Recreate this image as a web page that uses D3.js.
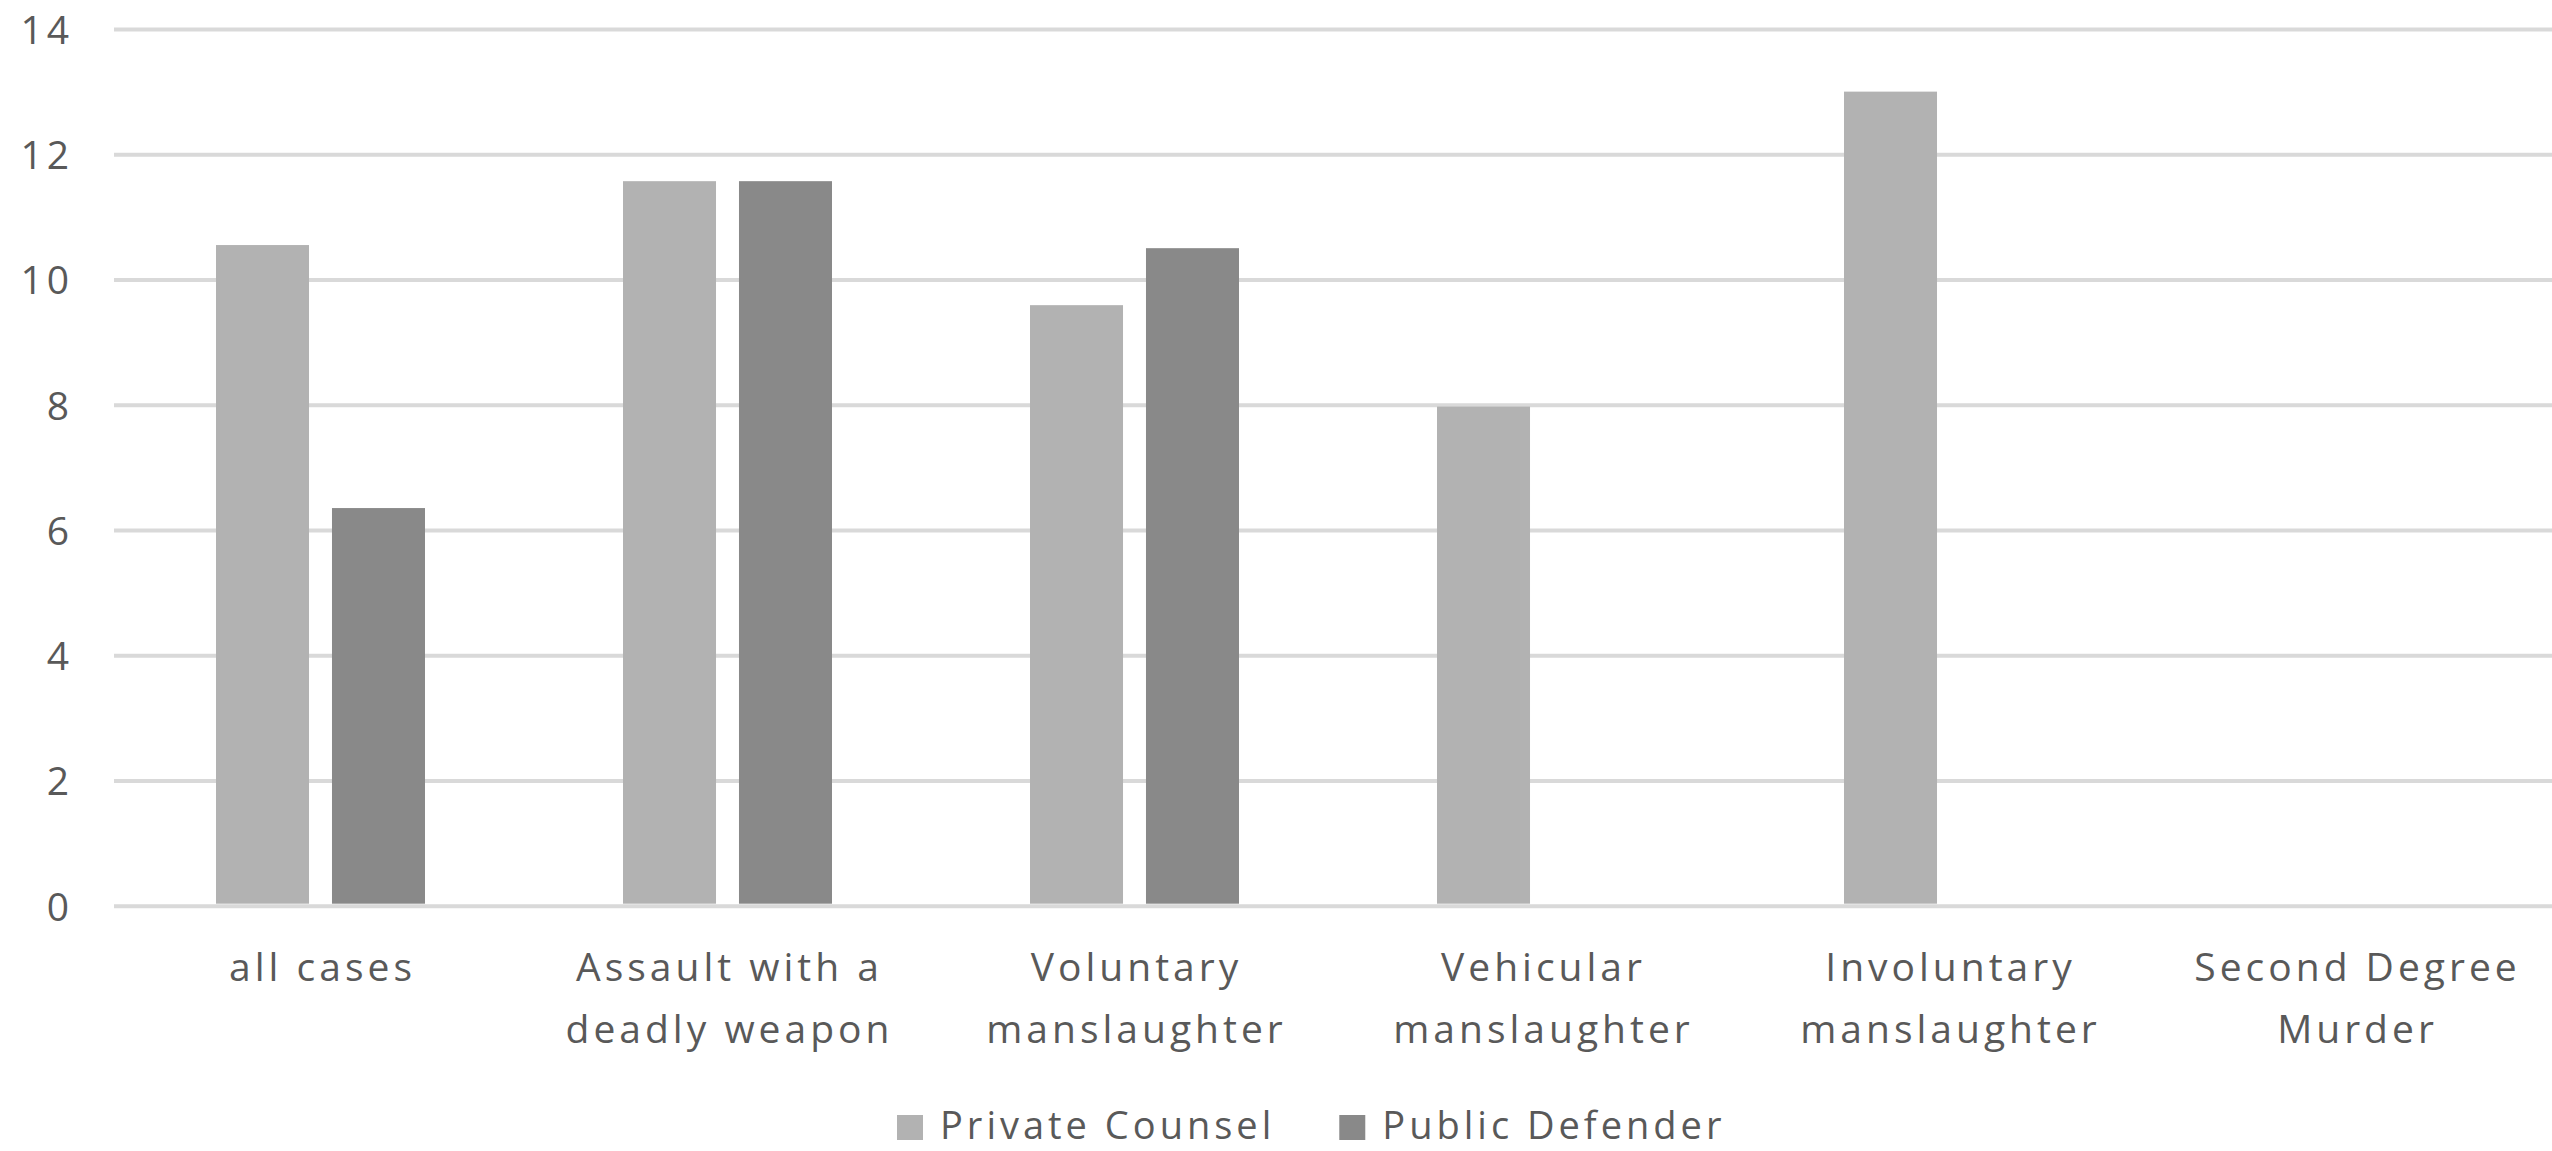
<!DOCTYPE html>
<html>
<head>
<meta charset="utf-8">
<script src="https://cdn.jsdelivr.net/npm/d3@7"></script>
<style>
  html, body { margin: 0; padding: 0; background: #ffffff; }
  svg { display: block; }
  text { font-family: "Open Sans", "Liberation Sans", sans-serif; fill: #595959; }
</style>
</head>
<body>
<svg id="chart" width="2552" height="1151"></svg>
<script>
// ---- data ----
const categories = ["all cases", "Assault with a deadly weapon", "Voluntary manslaughter",
                    "Vehicular manslaughter", "Involuntary manslaughter", "Second Degree Murder"];
const seriesNames = ["Private Counsel", "Public Defender"];
const privateCounsel = [10.55, 11.57, 9.59, 7.97, 13.0, 0];
const publicDefender = [6.35, 11.57, 10.5, 0, 0, 0];
const yTicks = [0, 2, 4, 6, 8, 10, 12, 14];
const seriesColors = ["#b2b2b2", "#898989"];

// ---- layout ----
const W = 2552, H = 1151;
const plotLeft = 117, plotRight = 2559, plotTop = 29, plotBottom = 905.7;
const svg = d3.select("#chart");
svg.append("rect").attr("width", W).attr("height", H).attr("fill", "#ffffff");

const y = d3.scaleLinear().domain([0, 14]).range([plotBottom, plotTop]);
const x = d3.scaleBand().domain(categories).range([plotLeft, plotRight])
  .paddingInner(0.4865).paddingOuter(0.4865 / 2);
const x1 = d3.scaleBand().domain(seriesNames).range([0, x.bandwidth()]).paddingInner(0.198);

const rows = categories.map((c, i) => ({ cat: c, vals: [privateCounsel[i], publicDefender[i]] }));

// gridlines
const grid = d3.axisLeft(y).tickValues(yTicks).tickSize(-(W - 114)).tickFormat("");
svg.append("g").attr("transform", `translate(114,0)`).call(grid)
  .call(g => g.select(".domain").remove())
  .call(g => g.selectAll(".tick line").attr("stroke", "#d9d9d9").attr("stroke-width", 4)
    .attr("x1", 0).attr("x2", W - 114));

// bars
const groups = svg.append("g").selectAll("g").data(rows).join("g")
  .attr("transform", d => `translate(${x(d.cat)},0)`);
groups.selectAll("rect").data(d => d.vals.map((v, j) => ({ s: seriesNames[j], v, j })))
  .join("rect")
  .filter(d => d.v > 0)
  .attr("x", d => x1(d.s))
  .attr("width", x1.bandwidth())
  .attr("y", d => y(d.v))
  .attr("height", d => (y(0) - 2) - y(d.v))
  .attr("fill", d => seriesColors[d.j]);

// y axis labels
const yAxis = d3.axisLeft(y).tickValues(yTicks).tickSize(0).tickPadding(0).tickFormat(d3.format("d"));
svg.append("g").attr("transform", "translate(69,0)").call(yAxis)
  .call(g => g.select(".domain").remove())
  .call(g => g.selectAll(".tick text")
    .attr("font-size", 39).attr("letter-spacing", 4)
    .attr("dy", null).attr("y", 14.5).attr("x", 4)
    .attr("fill", "#595959").attr("font-family", "Open Sans"));

// x axis labels with wrapping
const labelFont = 39, ls = 4, maxW = x.step() * 0.95;
const xAxis = d3.axisBottom(x).tickSize(0).tickPadding(0);
const xg = svg.append("g").attr("transform", `translate(0,${plotBottom})`).call(xAxis);
xg.select(".domain").remove();
xg.selectAll(".tick text").each(function(d) {
  const t = d3.select(this);
  t.text(null).attr("y", 0).attr("dy", null)
    .attr("font-size", labelFont).attr("letter-spacing", ls)
    .attr("fill", "#595959").attr("font-family", "Open Sans").attr("text-anchor", "middle");
  const words = d.split(" ");
  let lines = [], cur = [];
  const probe = t.append("tspan");
  words.forEach(w => {
    const test = cur.concat([w]).join(" ");
    probe.text(test);
    if (probe.node().getComputedTextLength() > maxW && cur.length) {
      lines.push(cur.join(" ")); cur = [w];
    } else cur.push(w);
  });
  lines.push(cur.join(" "));
  probe.remove();
  lines.forEach((ln, i) => {
    t.append("tspan").attr("x", ls / 2).attr("y", 75.5 + i * 62).text(ln);
  });
});

// legend
const legend = svg.append("g");
let lx = 897;
seriesNames.forEach((name, i) => {
  legend.append("rect").attr("x", lx).attr("y", 1115).attr("width", 26).attr("height", 25)
    .attr("fill", seriesColors[i]);
  const t = legend.append("text").attr("x", lx + 43).attr("y", 1139)
    .attr("font-size", 38).attr("letter-spacing", 4).text(name);
  lx = lx + 43 + t.node().getComputedTextLength() + 64;
});
</script>
</body>
</html>
